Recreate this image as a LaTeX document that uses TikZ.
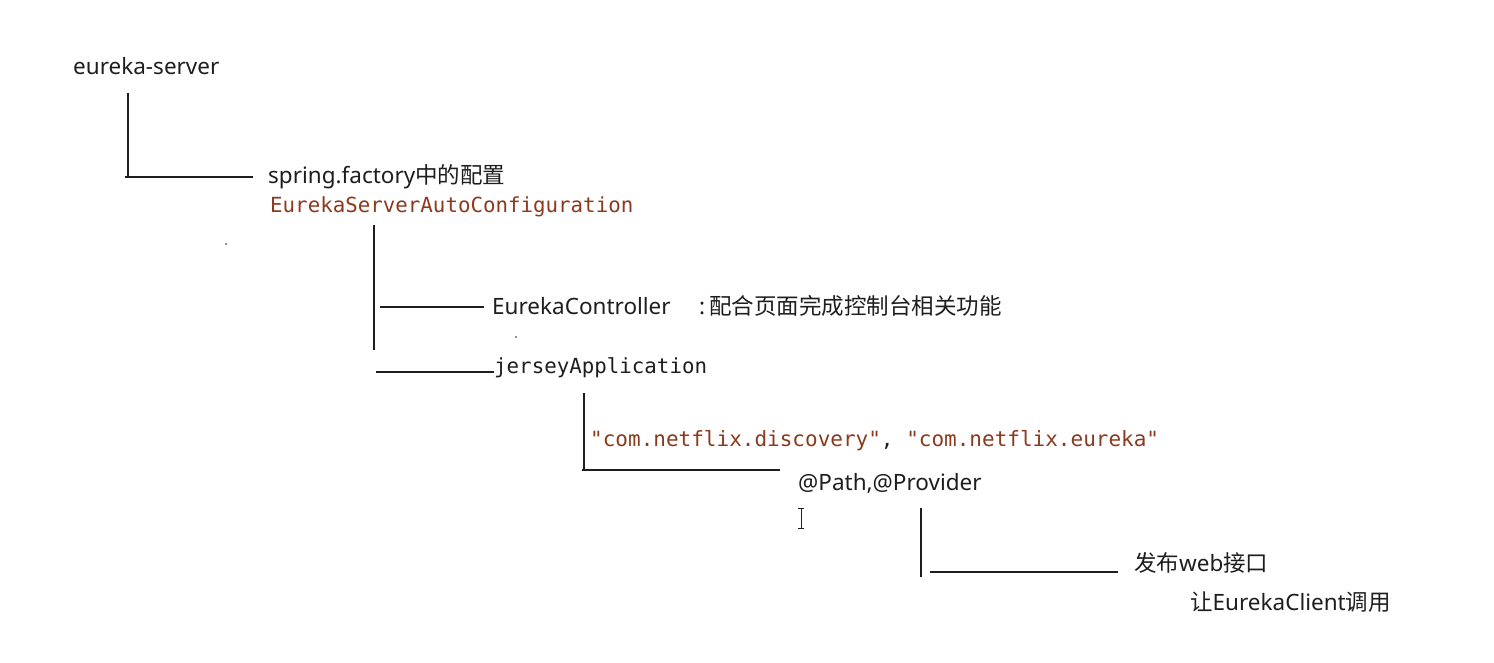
\documentclass[tikz,border=0pt]{standalone}
\usepackage{fontspec}
\setmainfont{Noto Sans}
\newfontfamily\cjk{Noto Sans CJK SC}
\newfontfamily\code{DejaVu Sans Mono}
\definecolor{ink}{HTML}{1E1E1E}
\definecolor{codebrown}{HTML}{8B3A1E}
\begin{document}
\begin{tikzpicture}[x=1pt,y=-1pt,
  lbl/.style={anchor=base west,inner sep=0pt,text=ink,font=\fontsize{22.5}{27}\selectfont},
  codelbl/.style={anchor=base west,inner sep=0pt,text=codebrown,font=\code\fontsize{20.8}{25}\selectfont},
  branch/.style={draw=ink,line width=1.4pt}]
\fill[white] (0,0) rectangle (1494,663);
\useasboundingbox (0,0) rectangle (1494,663);
% texts
\node[lbl] (srv) at (73,75) {eureka-server};
\node[lbl] (spring) at (268,184) {spring.factory{\cjk 中的配置}};
\node[codelbl] (auto) at (270,213) {EurekaServerAutoConfiguration};
\node[lbl] (ctrl) at (492,314) {EurekaController};
\node[lbl] (ctrlnote) at (699,314) {:\hspace{4pt}{\cjk 配合页面完成控制台相关功能}};
\node[codelbl,text=ink] (jersey) at (494,373) {jerseyApplication};
\node[codelbl,font=\code\fontsize{21}{25}\selectfont] (pkgs) at (590,446) {"com.netflix.discovery"\textcolor{ink}{,} "com.netflix.eureka"};
\node[lbl] (path) at (798,490) {@Path,@Provider};
\node[lbl] (pub) at (1134,571) {{\cjk 发布}web{\cjk 接口}};
\node[lbl] (client) at (1190,610) {{\cjk 让}EurekaClient{\cjk 调用}};
% connector end points
\coordinate (a1) at (128,93);  \coordinate (a2) at (128,178);
\coordinate (b1) at (125,177); \coordinate (b2) at (253,177);
\coordinate (c1) at (374,225); \coordinate (c2) at (374,350);
\coordinate (d1) at (380,307); \coordinate (d2) at (484,307);
\coordinate (e1) at (376,372); \coordinate (e2) at (494,372);
\coordinate (f1) at (584,393); \coordinate (f2) at (584,470);
\coordinate (g1) at (582,470); \coordinate (g2) at (780,470);
\coordinate (h1) at (921,508); \coordinate (h2) at (921,577);
\coordinate (i1) at (930,572); \coordinate (i2) at (1118,572);
\draw[branch] (a1) -- (a2);
\draw[branch] (b1) -- (b2);
\draw[branch] (c1) -- (c2);
\draw[branch] (d1) -- (d2);
\draw[branch] (e1) -- (e2);
\draw[branch] (f1) -- (f2);
\draw[branch] (g1) -- (g2);
\draw[branch] (h1) -- (h2);
\draw[branch] (i1) -- (i2);
% stray dots
\fill[ink] (226,244) circle (0.9);
\fill[ink] (516,337) circle (0.9);
% text cursor (I-beam)
\coordinate (cur) at (801,518);
\draw[ink,line width=0.9pt] ([yshift=-10]cur) -- ([yshift=10]cur)
  ([xshift=-3,yshift=-10]cur) -- ([xshift=3,yshift=-10]cur)
  ([xshift=-3,yshift=10]cur) -- ([xshift=3,yshift=10]cur);
\end{tikzpicture}
\end{document}
